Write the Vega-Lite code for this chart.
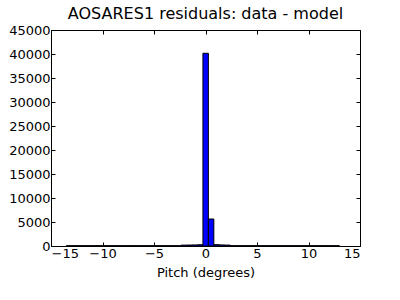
{
  "$schema": "https://vega.github.io/schema/vega-lite/v6.json",
  "autosize": "none",
  "width": 309,
  "height": 216,
  "padding": {"left": 51, "top": 30, "right": 40, "bottom": 54},
  "background": "white",
  "title": {"text": "AOSARES1 residuals: data - model", "font": "DejaVu Sans", "fontSize": 16, "fontWeight": "normal", "color": "black", "offset": 2},
  "config": {
    "view": {"stroke": "black", "strokeWidth": 1},
    "axis": {"grid": false, "domain": false, "tickColor": "black", "tickSize": -4, "labelFont": "DejaVu Sans", "labelFontSize": 13, "labelColor": "black", "titleFont": "DejaVu Sans", "titleFontSize": 13, "titleFontWeight": "normal", "titleColor": "black"}
  },
  "data": {"values": [
    {"start": -13.5, "end": -12.97, "count": 60},
    {"start": -12.97, "end": -12.44, "count": 60},
    {"start": -12.44, "end": -11.91, "count": 60},
    {"start": -11.91, "end": -11.38, "count": 60},
    {"start": -11.38, "end": -10.85, "count": 60},
    {"start": -10.85, "end": -10.32, "count": 60},
    {"start": -10.32, "end": -9.79, "count": 60},
    {"start": -9.79, "end": -9.26, "count": 60},
    {"start": -9.26, "end": -8.73, "count": 60},
    {"start": -8.73, "end": -8.2, "count": 60},
    {"start": -8.2, "end": -7.67, "count": 60},
    {"start": -7.67, "end": -7.14, "count": 60},
    {"start": -7.14, "end": -6.61, "count": 60},
    {"start": -6.61, "end": -6.08, "count": 60},
    {"start": -6.08, "end": -5.55, "count": 60},
    {"start": -5.55, "end": -5.02, "count": 60},
    {"start": -5.02, "end": -4.49, "count": 60},
    {"start": -4.49, "end": -3.96, "count": 60},
    {"start": -3.96, "end": -3.43, "count": 60},
    {"start": -3.43, "end": -2.9, "count": 60},
    {"start": -2.9, "end": -2.37, "count": 60},
    {"start": -2.37, "end": -1.84, "count": 180},
    {"start": -1.84, "end": -1.31, "count": 200},
    {"start": -1.31, "end": -0.78, "count": 220},
    {"start": -0.78, "end": -0.25, "count": 260},
    {"start": -0.25, "end": 0.28, "count": 40150},
    {"start": 0.28, "end": 0.81, "count": 5625},
    {"start": 0.81, "end": 1.34, "count": 280},
    {"start": 1.34, "end": 1.87, "count": 220},
    {"start": 1.87, "end": 2.4, "count": 190},
    {"start": 2.4, "end": 2.93, "count": 60},
    {"start": 2.93, "end": 3.46, "count": 60},
    {"start": 3.46, "end": 3.99, "count": 60},
    {"start": 3.99, "end": 4.52, "count": 60},
    {"start": 4.52, "end": 5.05, "count": 60},
    {"start": 5.05, "end": 5.58, "count": 60},
    {"start": 5.58, "end": 6.11, "count": 60},
    {"start": 6.11, "end": 6.64, "count": 60},
    {"start": 6.64, "end": 7.17, "count": 60},
    {"start": 7.17, "end": 7.7, "count": 60},
    {"start": 7.7, "end": 8.23, "count": 60},
    {"start": 8.23, "end": 8.76, "count": 60},
    {"start": 8.76, "end": 9.29, "count": 60},
    {"start": 9.29, "end": 9.82, "count": 60},
    {"start": 9.82, "end": 10.35, "count": 60},
    {"start": 10.35, "end": 10.88, "count": 60},
    {"start": 10.88, "end": 11.41, "count": 60},
    {"start": 11.41, "end": 11.94, "count": 60},
    {"start": 11.94, "end": 12.47, "count": 60},
    {"start": 12.47, "end": 13.0, "count": 60}
  ]},
  "layer": [
    {
      "mark": {"type": "bar", "fill": "#0000ff", "stroke": "black", "strokeWidth": 1},
      "encoding": {
        "x": {"field": "start", "type": "quantitative", "scale": {"domain": [-15, 15], "nice": false, "zero": false}, "axis": {"title": "Pitch (degrees)", "values": [-15, -10, -5, 0, 5, 10, 15], "format": "d", "labelPadding": 5, "titlePadding": 6}},
        "x2": {"field": "end"},
        "y": {"field": "count", "type": "quantitative", "scale": {"domain": [0, 45000], "nice": false}, "axis": {"title": null, "values": [0, 5000, 10000, 15000, 20000, 25000, 30000, 35000, 40000, 45000], "format": "d", "labelPadding": 5}},
        "y2": {"datum": 0}
      }
    },
    {
      "mark": {"type": "bar", "opacity": 0},
      "encoding": {
        "x": {"field": "start", "type": "quantitative", "axis": {"orient": "top", "title": null, "labels": false, "values": [-15, -10, -5, 0, 5, 10, 15]}},
        "x2": {"field": "end"},
        "y": {"field": "count", "type": "quantitative", "axis": {"orient": "right", "title": null, "labels": false, "values": [0, 5000, 10000, 15000, 20000, 25000, 30000, 35000, 40000, 45000]}},
        "y2": {"datum": 0}
      }
    }
  ],
  "resolve": {"axis": {"x": "independent", "y": "independent"}}
}
